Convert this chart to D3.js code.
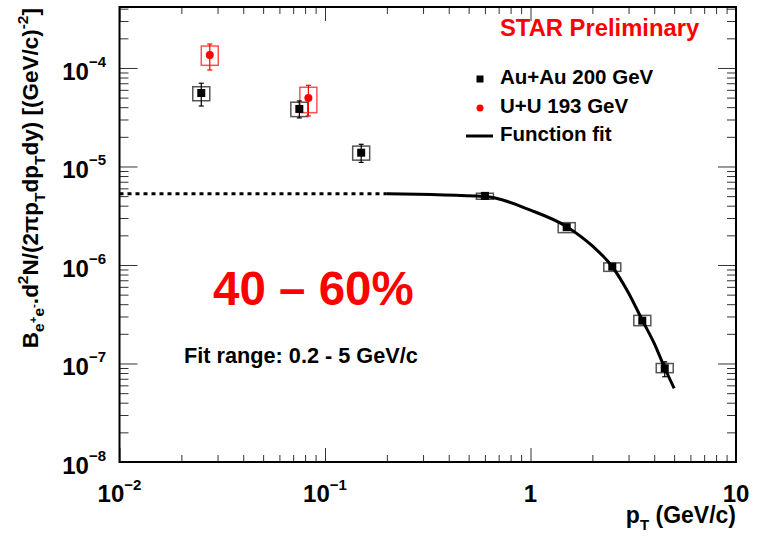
<!DOCTYPE html>
<html><head><meta charset="utf-8">
<script src="https://cdn.jsdelivr.net/npm/d3@7"></script>
<style>
body{margin:0;background:#fff}
svg{font-family:"Liberation Sans",Arial,Helvetica,sans-serif;display:block}
</style>
</head><body><svg id="c" width="759" height="537"></svg>
<script>
// ---------- data ----------
const xTickValues = [0.01, 0.1, 1, 10];
const xTickLabels = [["10","\u22122"],["10","\u22121"],["1",""],["10",""]];
const yTickValues = [1e-8, 1e-7, 1e-6, 1e-5, 1e-4];
const yTickLabels = [["10","\u22128"],["10","\u22127"],["10","\u22126"],["10","\u22125"],["10","\u22124"]];

// Au+Au 200 GeV
const auPt     = [0.025, 0.075, 0.15, 0.6, 1.5, 2.5, 3.5, 4.5];
const auY      = [5.57e-5, 3.84e-5, 1.38e-5, 5.03e-6, 2.42e-6, 9.62e-7, 2.72e-7, 8.93e-8];
const auStatHi = [7.0e-5, 4.63e-5, 1.68e-5, 5.2e-6, 2.5e-6, 1.0e-6, 2.9e-7, 1.04e-7];
const auStatLo = [4.11e-5, 3.11e-5, 1.10e-5, 4.85e-6, 2.34e-6, 9.2e-7, 2.55e-7, 7.34e-8];
const auSysHi  = [6.45e-5, 4.49e-5, 1.61e-5, 5.35e-6, 2.69e-6, 1.05e-6, 3.08e-7, 1.0e-7];
const auSysLo  = [4.65e-5, 3.21e-5, 1.16e-5, 4.65e-6, 2.13e-6, 8.62e-7, 2.42e-7, 8.07e-8];

// U+U 193 GeV
const uuPt     = [0.0275, 0.083];
const uuY      = [1.355e-4, 4.96e-5];
const uuStatHi = [1.75e-4, 6.67e-5];
const uuStatLo = [9.54e-5, 3.26e-5];
const uuSysHi  = [1.67e-4, 6.37e-5];
const uuSysLo  = [1.064e-4, 3.52e-5];

// function fit (solid, in fit range) and its extrapolation (dotted)
const fitPt  = [0.2, 0.6, 1.0, 1.5, 2.0, 2.5, 3.0, 3.5, 4.0, 4.5, 5.0];
const fitY   = [5.28e-6, 4.95e-6, 3.6e-6, 2.45e-6, 1.56e-6, 9.6e-7, 5.2e-7, 2.75e-7, 1.6e-7, 9.0e-8, 5.6e-8];
const extPt  = [0.01, 0.2];
const extY   = [5.28e-6, 5.28e-6];

const legendLabels = ["Au+Au 200 GeV", "U+U 193 GeV", "Function fit"];

// ---------- layout ----------
const svg = d3.select("#c");
const L = 119.5, R = 736, T = 7, B = 462;
const x = d3.scaleLog().domain([0.01, 10]).range([L, R]);
const y = d3.scaleLog().domain([1e-8, 4.16e-4]).range([B, T]);
const RED = "#ff0000";

function rich(sel, parts, size) {
  let cur = 0;
  parts.forEach(p => {
    const off = p.off || 0;
    sel.append("tspan").attr("dy", off - cur).attr("font-size", p.size || size).text(p.t);
    cur = off;
  });
}

// ---------- ticks ----------
const g = svg.append("g");
function minorTicks(lo, hi) {
  const out = [];
  for (let e = lo; e < hi; e++) for (let m = 1; m <= 9; m++) out.push(m * Math.pow(10, e));
  return out;
}
const xMinor = minorTicks(-2, 1).filter(v => !xTickValues.some(t => Math.abs(t - v) / v < 1e-9));
const yMinor = minorTicks(-8, -3).filter(v => v <= 4.16e-4 && !yTickValues.some(t => Math.abs(t - v) / v < 1e-9));

g.append("g").attr("transform", `translate(0,${B})`)
  .call(d3.axisBottom(x).tickValues(xTickValues).tickSizeInner(-14).tickSizeOuter(0).tickFormat(""));
g.append("g").attr("transform", `translate(0,${B})`)
  .call(d3.axisBottom(x).tickValues(xMinor).tickSizeInner(-7).tickSizeOuter(0).tickFormat(""));
g.append("g").attr("transform", `translate(0,${T})`)
  .call(d3.axisTop(x).tickValues(xTickValues).tickSizeInner(-14).tickSizeOuter(0).tickFormat(""));
g.append("g").attr("transform", `translate(0,${T})`)
  .call(d3.axisTop(x).tickValues(xMinor).tickSizeInner(-7).tickSizeOuter(0).tickFormat(""));
g.append("g").attr("transform", `translate(${L},0)`)
  .call(d3.axisLeft(y).tickValues(yTickValues).tickSizeInner(-18).tickSizeOuter(0).tickFormat(""));
g.append("g").attr("transform", `translate(${L},0)`)
  .call(d3.axisLeft(y).tickValues(yMinor).tickSizeInner(-9).tickSizeOuter(0).tickFormat(""));
g.append("g").attr("transform", `translate(${R},0)`)
  .call(d3.axisRight(y).tickValues(yTickValues).tickSizeInner(-18).tickSizeOuter(0).tickFormat(""));
g.append("g").attr("transform", `translate(${R},0)`)
  .call(d3.axisRight(y).tickValues(yMinor).tickSizeInner(-9).tickSizeOuter(0).tickFormat(""));
g.selectAll(".domain").remove();
g.selectAll(".tick line").attr("stroke", "#333").attr("stroke-width", 1);

svg.append("rect").attr("x", L).attr("y", T).attr("width", R - L).attr("height", B - T)
  .attr("fill", "none").attr("stroke", "#000").attr("stroke-width", 2);

// tick labels
xTickValues.forEach((v, i) => {
  const t = svg.append("text").attr("x", x(v)).attr("y", 502).attr("text-anchor", "middle")
    .attr("font-weight", "bold").attr("fill", "#000");
  const parts = [{t: xTickLabels[i][0]}];
  if (xTickLabels[i][1]) parts.push({t: xTickLabels[i][1], off: -12, size: 15});
  rich(t, parts, 24);
});
yTickValues.forEach((v, i) => {
  const t = svg.append("text").attr("x", 106).attr("y", y(v) + 12).attr("text-anchor", "end")
    .attr("font-weight", "bold").attr("fill", "#000");
  rich(t, [{t: yTickLabels[i][0]}, {t: yTickLabels[i][1], off: -13, size: 15}], 24);
});

// axis titles
const xt = svg.append("text").attr("x", R).attr("y", 523).attr("text-anchor", "end")
  .attr("font-weight", "bold").attr("fill", "#000");
rich(xt, [{t: "p"}, {t: "T", off: 7, size: 15}, {t: " (GeV/c)", off: 0}], 23);

const yt = svg.append("text").attr("transform", "translate(38,8) rotate(-90)")
  .attr("text-anchor", "end").attr("font-weight", "bold").attr("fill", "#000");
rich(yt, [
  {t: "B"}, {t: "e", off: 6, size: 15.5}, {t: "+", off: -1, size: 11.5}, {t: "e", off: 6, size: 15.5}, {t: "-", off: -1, size: 11.5},
  {t: ".d", off: 0}, {t: "2", off: -10, size: 15.5}, {t: "N/(2\u03c0p", off: 0}, {t: "T", off: 7, size: 15.5},
  {t: "dp", off: 0}, {t: "T", off: 7, size: 15.5}, {t: "dy) [(GeV/c)", off: 0}, {t: "-2", off: -10, size: 15.5}, {t: "]", off: 0}
], 22.5);

// ---------- data marks ----------
const plot = svg.append("g");
const BOXW = 17;
function sysBoxes(pt, lo, hi, color) {
  plot.append("g").selectAll("rect").data(pt).join("rect")
    .attr("x", d => x(d) - BOXW / 2).attr("width", BOXW)
    .attr("y", (d, i) => y(hi[i])).attr("height", (d, i) => y(lo[i]) - y(hi[i]))
    .attr("fill", "none").attr("stroke", color).attr("stroke-width", 1.5);
}
function statBars(pt, lo, hi, color) {
  const gg = plot.append("g").attr("stroke", color).attr("stroke-width", 1.2);
  gg.selectAll("line.v").data(pt).join("line").attr("class", "v")
    .attr("x1", d => x(d)).attr("x2", d => x(d))
    .attr("y1", (d, i) => y(hi[i])).attr("y2", (d, i) => y(lo[i]));
  gg.selectAll("line.h").data(pt).join("line").attr("class", "h")
    .attr("x1", d => x(d) - 2.5).attr("x2", d => x(d) + 2.5).attr("y1", (d, i) => y(hi[i])).attr("y2", (d, i) => y(hi[i]));
  gg.selectAll("line.l").data(pt).join("line").attr("class", "l")
    .attr("x1", d => x(d) - 2.5).attr("x2", d => x(d) + 2.5).attr("y1", (d, i) => y(lo[i])).attr("y2", (d, i) => y(lo[i]));
}
sysBoxes(auPt, auSysLo, auSysHi, "#555");
sysBoxes(uuPt, uuSysLo, uuSysHi, "#ff5050");
statBars(auPt, auStatLo, auStatHi, "#000");
statBars(uuPt, uuStatLo, uuStatHi, RED);

const line = d3.line().x(d => x(d[0])).y(d => y(d[1])).curve(d3.curveMonotoneX);
plot.append("path").datum(extPt.map((v, i) => [v, extY[i]])).attr("d", line)
  .attr("fill", "none").attr("stroke", "#000").attr("stroke-width", 3).attr("stroke-dasharray", "4,4");
plot.append("path").datum(fitPt.map((v, i) => [v, fitY[i]])).attr("d", line)
  .attr("fill", "none").attr("stroke", "#000").attr("stroke-width", 3);

plot.append("g").selectAll("rect").data(auPt).join("rect")
  .attr("x", d => x(d) - 4).attr("y", (d, i) => y(auY[i]) - 4).attr("width", 8).attr("height", 8).attr("fill", "#000");
plot.append("g").selectAll("circle").data(uuPt).join("circle")
  .attr("cx", d => x(d)).attr("cy", (d, i) => y(uuY[i])).attr("r", 4).attr("fill", RED);

// ---------- texts ----------
svg.append("text").attr("x", 500).attr("y", 36).attr("font-size", 23.8).attr("font-weight", "bold")
  .attr("fill", RED).text("STAR Preliminary");

const lg = svg.append("g");
lg.append("rect").attr("x", 476.5).attr("y", 75.5).attr("width", 7).attr("height", 7).attr("fill", "#000");
lg.append("circle").attr("cx", 480).attr("cy", 108).attr("r", 3.5).attr("fill", RED);
lg.append("line").attr("x1", 466).attr("x2", 493).attr("y1", 136).attr("y2", 136).attr("stroke", "#000").attr("stroke-width", 3);
[84, 113, 140.5].forEach((yy, i) => {
  lg.append("text").attr("x", 500).attr("y", yy).attr("font-size", 20.5).attr("font-weight", "bold")
    .attr("fill", "#000").text(legendLabels[i]);
});

svg.append("text").attr("x", 213).attr("y", 305).attr("font-size", 47.5).attr("font-weight", "bold")
  .attr("fill", RED).text("40 \u2013 60%");
svg.append("text").attr("x", 184).attr("y", 363).attr("font-size", 21.7).attr("font-weight", "bold")
  .attr("fill", "#000").text("Fit range: 0.2 - 5 GeV/c");
</script>
</body></html>
